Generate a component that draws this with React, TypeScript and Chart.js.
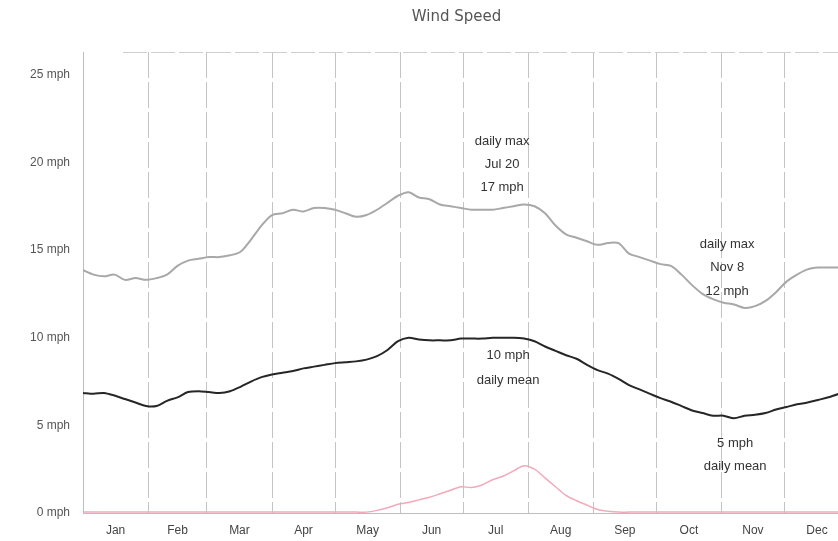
import { useEffect, useRef } from 'react';
import { Chart, registerables } from 'chart.js';

Chart.register(...registerables);

// day of year for each sample (every 5 days)
const days: number[] = [];
for (let d = 0; d <= 365; d += 5) days.push(d);

const dailyMax = [
  13.85, 13.6, 13.5, 13.6, 13.3, 13.4, 13.3, 13.4, 13.6, 14.1, 14.4, 14.5, 14.6, 14.6, 14.7,
  14.9, 15.6, 16.4, 17.0, 17.1, 17.3, 17.2, 17.4, 17.4, 17.3, 17.1, 16.9, 17.0, 17.3, 17.7,
  18.1, 18.3, 18.0, 17.9, 17.6, 17.5, 17.4, 17.3, 17.3, 17.3, 17.4, 17.5, 17.6, 17.5, 17.1,
  16.4, 15.9, 15.7, 15.5, 15.3, 15.4, 15.4, 14.8, 14.6, 14.4, 14.2, 14.1, 13.6, 13.0, 12.5,
  12.2, 12.0, 11.9, 11.7, 11.8, 12.1, 12.6, 13.2, 13.6, 13.9, 14.0, 14.0, 14.0, 13.9,
];

const dailyMean = [
  6.85, 6.8, 6.85, 6.7, 6.5, 6.3, 6.1, 6.1, 6.4, 6.6, 6.9, 6.95, 6.9, 6.85, 6.95,
  7.2, 7.5, 7.75, 7.9, 8.0, 8.1, 8.25, 8.35, 8.45, 8.55, 8.6, 8.65, 8.75, 8.95, 9.3,
  9.8, 10.0, 9.9, 9.85, 9.85, 9.85, 9.95, 9.95, 9.95, 10.0, 10.0, 10.0, 9.95, 9.8, 9.5,
  9.25, 9.0, 8.8, 8.45, 8.15, 7.95, 7.65, 7.3, 7.05, 6.8, 6.55, 6.35, 6.1, 5.85, 5.7,
  5.55, 5.55, 5.4, 5.55, 5.6, 5.7, 5.9, 6.05, 6.2, 6.3, 6.45, 6.6, 6.8, 6.9,
];

const dailyMin = [
  0.05, 0.05, 0.05, 0.05, 0.05, 0.05, 0.05, 0.05, 0.05, 0.05, 0.05, 0.05, 0.05, 0.05, 0.05,
  0.05, 0.05, 0.05, 0.05, 0.05, 0.05, 0.05, 0.05, 0.05, 0.05, 0.05, 0.05, 0.05, 0.15, 0.3,
  0.5, 0.6, 0.75, 0.9, 1.1, 1.3, 1.5, 1.45, 1.6, 1.9, 2.1, 2.4, 2.7, 2.5, 2.0,
  1.5, 1.0, 0.7, 0.45, 0.2, 0.1, 0.05, 0.05, 0.05, 0.05, 0.05, 0.05, 0.05, 0.05, 0.05,
  0.05, 0.05, 0.05, 0.05, 0.05, 0.05, 0.05, 0.05, 0.05, 0.05, 0.05, 0.05, 0.05, 0.05,
];

const monthNames = ['Jan', 'Feb', 'Mar', 'Apr', 'May', 'Jun', 'Jul', 'Aug', 'Sep', 'Oct', 'Nov', 'Dec'];
const monthStarts = [0, 31, 59, 90, 120, 151, 181, 212, 243, 273, 304, 334, 365];
const yTicks = [0, 5, 10, 15, 20, 25];

// text notes anchored at [day, value] with pixel offsets
const notes = [
  { day: 201, value: 17.4, dx: -3, dy: [-67, -44, -21], lines: ['daily max', 'Jul 20', '17 mph'] },
  { day: 311, value: 11.8, dx: -9, dy: [-62, -39, -15], lines: ['daily max', 'Nov 8', '12 mph'] },
  { day: 201, value: 10.0, dx: 3, dy: [18, 43], lines: ['10 mph', 'daily mean'] },
  { day: 311, value: 5.45, dx: -1, dy: [26, 49], lines: ['5 mph', 'daily mean'] },
];

const notesPlugin = {
  id: 'notes',
  afterDatasetsDraw(chart: any) {
    const { ctx, scales, chartArea } = chart;
    const x = scales.x;
    const y = scales.y;
    ctx.save();
    // top border
    ctx.strokeStyle = '#cfcfcf';
    ctx.setLineDash([24, 4]);
    ctx.lineWidth = 1;
    ctx.beginPath();
    ctx.moveTo(chartArea.left + 40, chartArea.top + 0.5);
    ctx.lineTo(chartArea.right, chartArea.top + 0.5);
    ctx.stroke();
    ctx.setLineDash([]);
    ctx.fillStyle = '#333';
    ctx.font = '13px "Liberation Sans", Arial, sans-serif';
    ctx.textAlign = 'center';
    ctx.textBaseline = 'middle';
    notes.forEach((n) => {
      const px = x.getPixelForValue(n.day) + n.dx;
      const py = y.getPixelForValue(n.value);
      n.lines.forEach((t, i) => ctx.fillText(t, px, py + n.dy[i]));
    });
    // title
    ctx.fillStyle = '#555';
    ctx.font = '15px "DejaVu Sans", sans-serif';
    ctx.fillText('Wind Speed', (chartArea.left + chartArea.right) / 2 - 4, 17);
    ctx.restore();
  },
};

export default function App() {
  const chartRef = useRef<HTMLCanvasElement>(null);
  const chartInstance = useRef<Chart | null>(null);

  useEffect(() => {
    document.body.style.margin = '0';
    if (!chartRef.current) return;
    if (chartInstance.current) chartInstance.current.destroy();
    const ctx = chartRef.current.getContext('2d');
    if (!ctx) return;

    const toPoints = (vals: number[]) => vals.map((v, i) => ({ x: days[i], y: v }));

    chartInstance.current = new Chart(ctx, {
      type: 'line',
      data: {
        datasets: [
          {
            label: 'daily max',
            data: toPoints(dailyMax),
            borderColor: '#a8a8a8',
            borderWidth: 2,
            pointRadius: 0,
            tension: 0.3,
          },
          {
            label: 'daily mean',
            data: toPoints(dailyMean),
            borderColor: '#262626',
            borderWidth: 2,
            pointRadius: 0,
            tension: 0.3,
          },
          {
            label: 'daily min',
            data: toPoints(dailyMin),
            borderColor: '#f2a9b9',
            borderWidth: 1.5,
            pointRadius: 0,
            tension: 0.3,
          },
        ],
      },
      options: {
        animation: false,
        responsive: true,
        maintainAspectRatio: false,
        layout: { padding: { top: 52, right: 0, left: 0, bottom: 0 } },
        plugins: {
          legend: { display: false },
          title: { display: false },
          tooltip: { enabled: false },
        },
        scales: {
          x: {
            type: 'linear',
            min: 0,
            max: 359.5,
            position: 'bottom',
            afterBuildTicks: (scale: any) => {
              scale.ticks = monthStarts.map((v) => ({ value: v }));
            },
            afterFit: (scale: any) => {
              scale.height = 0;
            },
            ticks: { display: false },
            border: { display: true, color: '#bdbdbd', dash: [26, 4] },
            grid: {
              color: '#c4c4c4',
              lineWidth: 1,
              drawTicks: false,
            },
          },
          months: {
            type: 'linear',
            min: 0,
            max: 359.5,
            position: 'bottom',
            afterBuildTicks: (scale: any) => {
              scale.ticks = monthNames.map((_, i) => ({ value: (monthStarts[i] + monthStarts[i + 1]) / 2 }));
            },
            afterFit: (scale: any) => {
              scale.height = 28;
            },
            ticks: {
              autoSkip: false,
              maxRotation: 0,
              padding: 2,
              color: '#444',
              font: { family: '"Liberation Sans", Arial, sans-serif', size: 12 },
              callback: (v: any) => {
                const i = monthNames.findIndex((_, k) => (monthStarts[k] + monthStarts[k + 1]) / 2 === v);
                return i >= 0 ? monthNames[i] : '';
              },
            },
            border: { display: false },
            grid: { display: false },
          },
          y: {
            min: 0,
            max: 26.3,
            afterBuildTicks: (scale: any) => {
              scale.ticks = yTicks.map((v) => ({ value: v }));
            },
            afterFit: (scale: any) => {
              scale.width = 83;
            },
            ticks: {
              padding: 5,
              color: '#555',
              font: { family: '"Liberation Sans", Arial, sans-serif', size: 12 },
              callback: (v: any) => `${v} mph`,
            },
            border: { display: true, color: '#bdbdbd' },
            grid: { display: false },
          },
        },
      },
      plugins: [notesPlugin],
    });

    return () => {
      if (chartInstance.current) {
        chartInstance.current.destroy();
        chartInstance.current = null;
      }
    };
  }, []);

  return (
    <div style={{ width: 838, height: 541, position: 'relative', background: '#fff' }}>
      <canvas ref={chartRef} />
    </div>
  );
}
